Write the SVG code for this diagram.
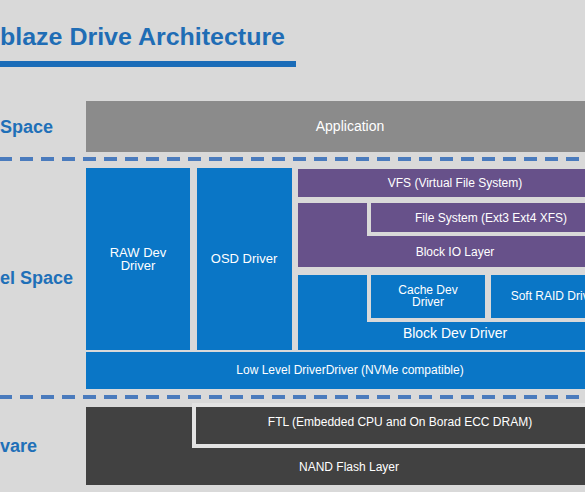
<svg xmlns="http://www.w3.org/2000/svg" width="585" height="492" viewBox="0 0 585 492">
<style>
.t{font-family:"Liberation Sans",Arial,sans-serif;fill:#ffffff;text-anchor:middle}
.lbl{font-family:"Liberation Sans",Arial,sans-serif;fill:#1f70b8;font-weight:bold;font-size:18px}
.blue{fill:#0a76c6}
.purple{fill:#67518a}
.dark{fill:#414141}
.dash{stroke:#4a7bbd;stroke-width:4;stroke-dasharray:13 8;stroke-dashoffset:1;fill:none}
.inset{stroke:#d9d9d9;stroke-width:4}
</style>
<rect x="0" y="0" width="585" height="492" fill="#d9d9d9"/>
<g id="title">
<text x="0" y="45" font-family="Liberation Sans, Arial, sans-serif" font-weight="bold" font-size="23" fill="#1f6db5" textLength="285" lengthAdjust="spacingAndGlyphs">blaze Drive Architecture</text>
<rect x="0" y="61" width="296" height="6" fill="#1a6cb8"/>
</g>
<g id="labels">
<text class="lbl" x="0" y="133">Space</text>
<text class="lbl" x="0" y="284">el Space</text>
<text class="lbl" x="0" y="452">vare</text>
</g>
<g id="separators">
<line class="dash" x1="0" y1="159" x2="585" y2="159"/>
<line class="dash" x1="0" y1="397" x2="585" y2="397"/>
</g>
<g id="application">
<rect x="86" y="101" width="499" height="51" fill="#8b8b8b"/>
<text class="t" x="350" y="131" font-size="14">Application</text>
</g>
<g id="raw-dev-driver">
<rect class="blue" x="86" y="168" width="104" height="182"/>
<text class="t" x="138" y="257" font-size="13">RAW Dev</text>
<text class="t" x="138" y="270" font-size="13">Driver</text>
</g>
<g id="osd-driver">
<rect class="blue" x="197" y="168" width="95" height="182"/>
<text class="t" x="244" y="263" font-size="13">OSD Driver</text>
</g>
<g id="vfs">
<rect class="purple" x="298" y="169" width="287" height="28"/>
<text class="t" x="455" y="187" font-size="12">VFS (Virtual File System)</text>
</g>
<g id="block-io-layer">
<rect class="purple" x="298" y="203" width="287" height="64"/>
<text class="t" x="455" y="256" font-size="12">Block IO Layer</text>
</g>
<g id="file-system">
<rect class="purple inset" x="369" y="201" width="220" height="33"/>
<text class="t" x="491" y="222" font-size="12">File System (Ext3 Ext4 XFS)</text>
</g>
<g id="block-dev-driver">
<rect class="blue" x="298" y="275" width="287" height="75"/>
<text class="t" x="455" y="338" font-size="14">Block Dev Driver</text>
</g>
<g id="cache-dev-driver">
<rect class="blue inset" x="369" y="273" width="118" height="47"/>
<text class="t" x="428" y="294" font-size="12">Cache Dev</text>
<text class="t" x="428" y="306" font-size="12">Driver</text>
</g>
<g id="soft-raid-driver">
<rect class="blue inset" x="489" y="273" width="100" height="47"/>
<text class="t" x="555" y="300" font-size="12">Soft RAID Driver</text>
</g>
<g id="low-level-driver">
<rect class="blue" x="86" y="352" width="499" height="37"/>
<text class="t" x="350" y="374" font-size="12">Low Level DriverDriver (NVMe compatible)</text>
</g>
<g id="nand-flash-layer">
<rect class="dark" x="86" y="407" width="499" height="78"/>
<text class="t" x="349" y="471" font-size="12">NAND Flash Layer</text>
</g>
<g id="ftl">
<rect class="dark" x="194" y="405" width="395" height="41" stroke="#e3e3e3" stroke-width="4"/>
<text class="t" x="400" y="426" font-size="12">FTL  (Embedded CPU and On Borad ECC DRAM)</text>
</g>
<g id="connectors"></g>
</svg>
